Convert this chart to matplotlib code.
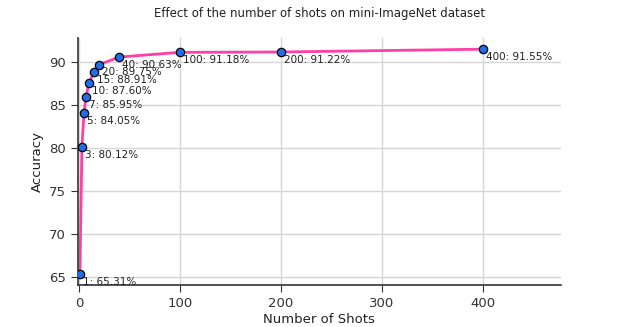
import matplotlib
matplotlib.use("Agg")
import matplotlib.pyplot as plt

# shots vs accuracy on mini-ImageNet
shots = [1, 3, 5, 7, 10, 15, 20, 40, 100, 200, 400]
accuracy = [65.31, 80.12, 84.05, 85.95, 87.60, 88.91, 89.75, 90.63, 91.18, 91.22, 91.55]

fig, ax = plt.subplots(figsize=(6.23, 3.27), dpi=100)
fig.subplots_adjust(left=0.125, right=0.9, bottom=0.128, top=0.884)

ax.plot(shots, accuracy, color="#ff3fa4", linewidth=2, zorder=2)
ax.scatter(shots, accuracy, s=36, color="#1f6fe8", edgecolors="black",
           linewidths=0.9, zorder=3)
for s, a in zip(shots, accuracy):
    ax.annotate(f"{s}: {a:.2f}%", (s, a), xytext=(2, -2),
                textcoords="offset points", ha="left", va="top", fontsize=7.5,
                color="#222222")

ax.set_xlim(-1, 477)
ax.set_xticks([0, 100, 200, 300, 400])
ax.grid(True, color="#d6d6d6", linewidth=1)
ax.set_axisbelow(True)
for side in ["top", "right"]:
    ax.spines[side].set_visible(False)
for side in ["left", "bottom"]:
    ax.spines[side].set_color("#333333")
    ax.spines[side].set_linewidth(1.2)
ax.tick_params(labelsize=9.5, colors="#333333", length=5)

ax.set_xlabel("Number of Shots", fontsize=9.5, color="#222222", labelpad=2)
ax.set_ylabel("Accuracy", fontsize=9.5, color="#222222")
ax.set_title("Effect of the number of shots on mini-ImageNet dataset",
             fontsize=8.5, color="#222222", pad=15)

fig.savefig("out.png", dpi=100)
